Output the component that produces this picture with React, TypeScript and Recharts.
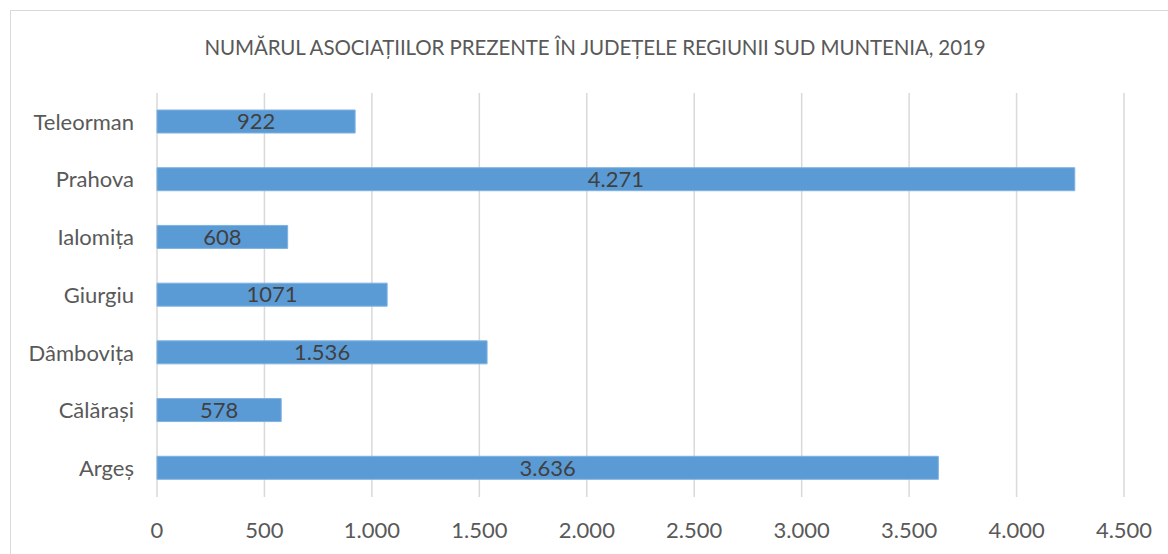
import { Bar, BarChart, CartesianGrid, LabelList, XAxis, YAxis } from "recharts"

const counties = ["Teleorman", "Prahova", "Ialomița", "Giurgiu", "Dâmbovița", "Călărași", "Argeș"]
const counts = [922, 4271, 608, 1071, 1536, 578, 3636]
const countLabels = ["922", "4.271", "608", "1071", "1.536", "578", "3.636"]
const xTicks = [0, 500, 1000, 1500, 2000, 2500, 3000, 3500, 4000, 4500]

const FONT = "Lato, 'Open Sans', sans-serif"

const rows = counties.map((name, i) => ({ name, value: counts[i], label: countLabels[i] }))

const fmt = (v: number) => v.toLocaleString("de-DE")

export default function App() {
  return (
    <div style={{ position: "absolute", left: 0, top: 0, width: 1168, height: 554, overflow: "hidden", background: "#fff", fontFamily: FONT }}>
      <div
        style={{
          position: "absolute",
          left: 10,
          top: 10,
          width: 1170,
          height: 560,
          border: "1px solid #d9d9d9",
        }}
      />
      <div
        style={{
          position: "absolute",
          left: 0,
          top: 35,
          width: 1190,
          textAlign: "center",
          fontSize: 20.5,
          color: "#595959",
          letterSpacing: -0.1,
        }}
      >
        NUMĂRUL ASOCIAȚIILOR PREZENTE ÎN JUDEȚELE REGIUNII SUD MUNTENIA, 2019
      </div>
      <div style={{ position: "absolute", left: 0, top: 0 }}>
        <BarChart width={1168} height={554} data={rows} layout="vertical" margin={{ top: 93, right: 44, bottom: 17, left: 0 }} barSize={23}>
          <CartesianGrid horizontal={false} stroke="#d9d9d9" strokeWidth={1.5} />
          <XAxis
            type="number"
            domain={[0, 4500]}
            ticks={xTicks}
            tickFormatter={fmt}
            axisLine={false}
            tickLine={false}
            tickMargin={19}
            height={40}
            tick={{ fontSize: 22, fill: "#595959", fontFamily: FONT }}
          />
          <YAxis
            type="category"
            dataKey="name"
            width={157}
            axisLine={false}
            tickLine={false}
            tickMargin={17}
            tick={{ fontSize: 22, fill: "#595959", fontFamily: FONT }}
          />
          <Bar dataKey="value" fill="#5b9bd5" stroke="#7fb2e0" strokeWidth={1} isAnimationActive={false}>
            <LabelList dataKey="label" position="center" fill="#404040" fontSize={22} fontFamily={FONT} />
          </Bar>
        </BarChart>
      </div>
    </div>
  )
}
